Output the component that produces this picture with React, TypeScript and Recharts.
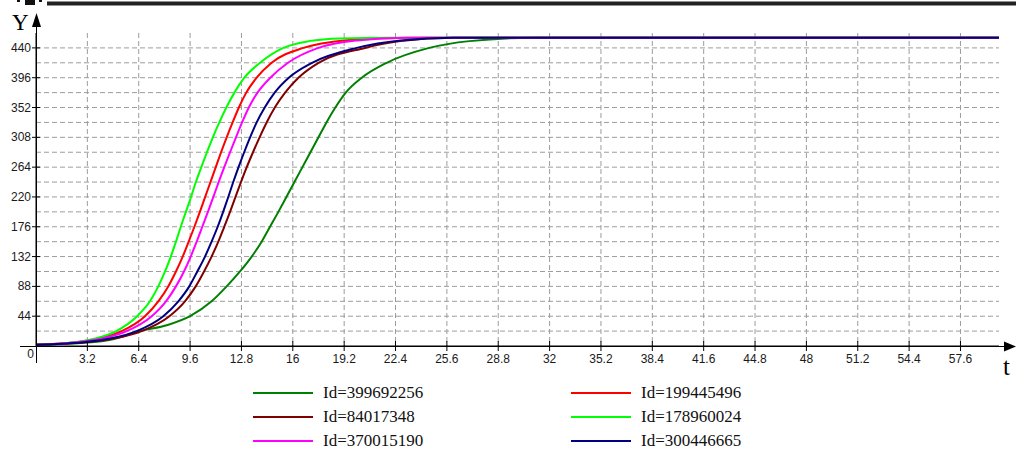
import { LineChart, Line, XAxis, YAxis, CartesianGrid } from "recharts";

// t axis ticks (labels as shown), Y ticks and the finer grid
const xTicks = [0, 3.2, 6.4, 9.6, 12.8, 16, 19.2, 22.4, 25.6, 28.8, 32, 35.2, 38.4, 41.6, 44.8, 48, 51.2, 54.4, 57.6];
const yTicks = [44, 88, 132, 176, 220, 264, 308, 352, 396, 440];
const yGrid = [22, 44, 66, 88, 110, 132, 154, 176, 198, 220, 242, 264, 286, 308, 330, 352, 374, 396, 418, 440];

// [t, Y]
const id399692256 = [
  [0, 2], [3.2, 5], [4.8, 10], [6.48, 22], [8.2, 31], [9.6, 44], [10.94, 66], [11.88, 88], [12.71, 110],
  [13.44, 132], [14.06, 154], [14.58, 176], [15.1, 198], [15.6, 220], [16.1, 242], [16.6, 264], [17.1, 286],
  [17.6, 308], [18.1, 330], [18.65, 352], [19.3, 374], [20.3, 396], [21.85, 418], [24.5, 440], [27, 450],
  [31, 455], [60, 455],
];
const id199445496 = [
  [0, 2], [2.45, 5.5], [3.9, 11], [5.34, 22], [6.79, 44], [7.62, 66], [8.24, 88], [8.72, 110], [9.14, 132],
  [9.51, 154], [9.87, 176], [10.21, 198], [10.54, 220], [10.87, 242], [11.2, 264], [11.53, 286], [11.88, 308],
  [12.25, 330], [12.64, 352], [13.1, 374], [13.75, 396], [14.68, 418], [16.66, 440], [18.5, 449], [21, 454],
  [24, 455], [60, 455],
];
const id84017348 = [
  [0, 2], [3.1, 5.5], [4.85, 11], [6.58, 22], [8.31, 44], [9.28, 66], [9.95, 88], [10.47, 110], [10.94, 132],
  [11.36, 154], [11.73, 176], [12.09, 198], [12.43, 220], [12.77, 242], [13.13, 264], [13.52, 286], [13.93, 308],
  [14.37, 330], [14.88, 352], [15.52, 374], [16.35, 396], [17.6, 418], [20.5, 440], [22.7, 450], [26, 455],
  [60, 455],
];
const id178960024 = [
  [0, 2], [2.4, 5.5], [3.7, 11], [5.0, 22], [6.3, 44], [7.1, 66], [7.62, 88], [8.04, 110], [8.4, 132],
  [8.72, 154], [9.02, 176], [9.34, 198], [9.66, 220], [9.96, 242], [10.3, 264], [10.65, 286], [11.02, 308],
  [11.42, 330], [11.86, 352], [12.36, 374], [12.98, 396], [13.96, 418], [15.41, 440], [17, 450], [19, 454],
  [22, 455], [60, 455],
];
const id370015190 = [
  [0, 2], [2.55, 5.5], [4.1, 11], [5.65, 22], [7.21, 44], [8.1, 66], [8.72, 88], [9.22, 110], [9.64, 132],
  [10.01, 154], [10.36, 176], [10.71, 198], [11.05, 220], [11.38, 242], [11.73, 264], [12.09, 286], [12.46, 308],
  [12.84, 330], [13.26, 352], [13.8, 374], [14.6, 396], [15.7, 418], [17.59, 440], [20, 451], [23, 455],
  [60, 455],
];
const id300446665 = [
  [0, 2], [2.95, 5.5], [4.6, 11], [6.27, 22], [7.93, 44], [8.87, 66], [9.55, 88], [10.05, 110], [10.53, 132],
  [10.94, 154], [11.32, 176], [11.66, 198], [11.98, 220], [12.29, 242], [12.62, 264], [12.97, 286], [13.34, 308],
  [13.75, 330], [14.25, 352], [14.87, 374], [15.75, 396], [17.2, 418], [19.98, 440], [22.7, 451], [26, 455],
  [60, 455],
];

const series = [
  { name: "Id=399692256", color: "#008000", points: id399692256 },
  { name: "Id=199445496", color: "#ff0000", points: id199445496 },
  { name: "Id=84017348", color: "#800000", points: id84017348 },
  { name: "Id=178960024", color: "#00ff00", points: id178960024 },
  { name: "Id=370015190", color: "#ff00ff", points: id370015190 },
  { name: "Id=300446665", color: "#000080", points: id300446665 },
];

const tickFont = { fontFamily: "'Liberation Sans', Arial, sans-serif", fontSize: 12, fill: "#1a1a1a" };
const serif = "'Liberation Serif', 'Times New Roman', serif";

function XTick({ x, y, payload }: any) {
  const v = payload.value;
  if (v === 0) {
    return (
      <text x={x - 2} y={y + 12} textAnchor="end" {...tickFont}>
        0
      </text>
    );
  }
  return (
    <g>
      <line x1={x} x2={x} y1={y - 5} y2={y + 5} stroke="#000" />
      <text x={x} y={y + 17} textAnchor="middle" {...tickFont}>
        {String(v)}
      </text>
    </g>
  );
}

function YTick({ x, y, payload }: any) {
  return (
    <g>
      <line x1={x - 4} x2={x + 4} y1={y} y2={y} stroke="#000" />
      <text x={x - 5} y={y + 4} textAnchor="end" {...tickFont}>
        {String(payload.value)}
      </text>
    </g>
  );
}

function LegendBlock() {
  return (
    <>
      {series.map((s, i) => {
        const col = i % 2;
        const row = Math.floor(i / 2);
        const left = col === 0 ? 253 : 571;
        const mid = 393 + row * 24;
        return (
          <div
            key={s.name}
            style={{ position: "absolute", left, top: mid - 7, height: 14, display: "flex", alignItems: "center" }}
          >
            <span style={{ width: 60, height: 2, background: s.color, display: "inline-block" }} />
            <span
              style={{ marginLeft: 10, fontFamily: serif, fontSize: 17, lineHeight: "14px", color: "#111", whiteSpace: "nowrap" }}
            >
              {s.name}
            </span>
          </div>
        );
      })}
    </>
  );
}

export default function App() {
  return (
    <div style={{ position: "absolute", left: 0, top: 0, width: 1016, height: 449, background: "#fff", overflow: "hidden" }}>
      <LineChart width={1016} height={449} margin={{ top: 33, right: 17, bottom: 102, left: 35 }}>
        <CartesianGrid
          horizontalValues={yGrid}
          verticalValues={xTicks.filter((t) => t > 0)}
          stroke="#9c9c9c"
          strokeDasharray="5 3"
        />
        <XAxis
          type="number"
          dataKey="t"
          domain={[0, 60]}
          ticks={xTicks}
          allowDataOverflow
          height={1}
          tickSize={0}
          tickMargin={0}
          tickLine={false}
          axisLine={{ stroke: "#000" }}
          tick={(p: any) => <XTick {...p} />}
          interval={0}
        />
        <YAxis
          type="number"
          domain={[0, 462]}
          ticks={yTicks}
          allowDataOverflow
          width={1}
          tickSize={0}
          tickMargin={0}
          tickLine={false}
          axisLine={{ stroke: "#000" }}
          tick={(p: any) => <YTick {...p} />}
          interval={0}
        />
        {series.map((s) => (
          <Line
            key={s.name}
            name={s.name}
            data={s.points.map(([t, v]) => ({ t, v }))}
            dataKey="v"
            type="monotone"
            stroke={s.color}
            strokeWidth={2}
            dot={false}
            isAnimationActive={false}
          />
        ))}
      </LineChart>

      <svg width={1016} height={449} style={{ position: "absolute", left: 0, top: 0, pointerEvents: "none" }}>
        <rect x={47} y={1.5} width={969} height={4} fill="#222" />
        <rect x={25} y={0} width={10} height={5} fill="#111" />
        <rect x={17} y={0} width={3} height={2} fill="#111" />
        <rect x={39} y={0} width={3} height={2} fill="#111" />
        <line x1={36.5} x2={36.5} y1={22} y2={363} stroke="#000" />
        <polygon points="36.5,13 32,27 41,27" fill="#000" />
        <line x1={20} x2={1008} y1={346.5} y2={346.5} stroke="#000" />
        <polygon points="1016,346.5 1004,341.5 1004,351.5" fill="#000" />
        <text x={12} y={30} fontFamily={serif} fontSize={23} fill="#000">
          Y
        </text>
        <text x={1003} y={375} fontFamily={serif} fontSize={25} fill="#000">
          t
        </text>
      </svg>

      <LegendBlock />
    </div>
  );
}
